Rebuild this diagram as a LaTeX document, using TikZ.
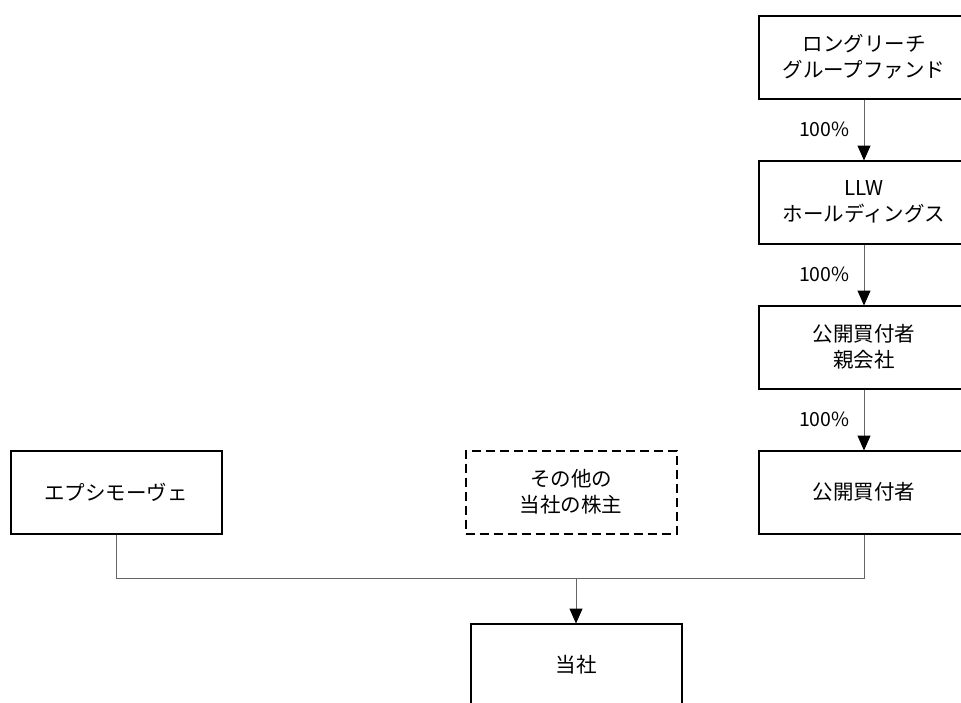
\documentclass[tikz,border=0pt]{standalone}
\usepackage{fontspec}
\setmainfont{Noto Sans CJK JP}
\usetikzlibrary{arrows.meta}
\begin{document}
\begin{tikzpicture}[x=1pt,y=-1pt,
  box/.style={draw=black, line width=2pt, minimum width=211pt, minimum height=83pt, inner sep=0pt, align=center, font=\fontsize{20.5}{26}\selectfont},
  otherbox/.style={box, dash pattern=on 9pt off 5pt},
  link/.style={draw=black!60, line width=1pt},
  hold/.style={link, -{Triangle[length=15pt,width=13pt,color=black,fill=black]}, shorten >=-1pt},
  share/.style={left, inner sep=0pt, xshift=-14pt, font=\fontsize{19.5}{23}\selectfont}]
\useasboundingbox (0,0) rectangle (961,702);
\clip (0,0) rectangle (961,702);
\node [box] (fund) at (864,57) {ロングリーチ\\グループファンド};
\node [box] (llw) at (864,202) {LLW\\ホールディングス};
\node [box] (parent) at (864,347) {公開買付者\\親会社};
\node [box] (buyer) at (864,492) {公開買付者};
\node [box] (epsi) at (116,492) {エプシモーヴェ};
\node [otherbox] (others) at (571,492) {その他の\\当社の株主};
\node [box] (target) at (576,665) {当社};
\coordinate (join) at (576,578);
\draw [hold] (fund) -- node [share] (r1) {100\%} (llw);
\draw [hold] (llw) -- node [share] (r2) {100\%} (parent);
\draw [hold] (parent) -- node [share] (r3) {100\%} (buyer);
\draw [link] (epsi.south) |- (join);
\draw [link] (buyer.south) |- (join);
\draw [hold] (join) -- (target.north);
\end{tikzpicture}
\end{document}
